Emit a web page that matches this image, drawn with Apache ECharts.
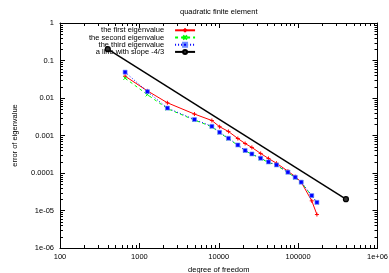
<!DOCTYPE html>
<html>
<head>
<meta charset="utf-8">
<script src="https://cdn.jsdelivr.net/npm/echarts@6/dist/echarts.min.js"></script>
<style>
html,body{margin:0;padding:0;background:#fff;}
#c{width:389px;height:273px;}
</style>
</head>
<body>
<div id="c"></div>
<script>
const dof = [661, 1262, 2255, 4940, 8190, 10260, 13250, 17400, 21500, 26140, 33740, 42340, 53400, 74340, 91900, 109400, 148500, 172500];
const firstEig = [0.0382, 0.0155, 0.00745, 0.00373, 0.00251, 0.00171, 0.00128, 0.000832, 0.000612, 0.00048, 0.000332, 0.000244, 0.000182, 0.000112, 0.000080, 0.000057, 0.0000181, 0.0000078];
const secondEig = [0.0338, 0.0123, 0.0052, 0.00258, 0.00171, 0.00118, 0.00082, 0.000545, 0.000390, 0.000315, 0.000242, 0.000192, 0.000160, 0.000103, 0.000075, 0.000056, 0.0000245, 0.0000162];
const thirdEig = [0.0489, 0.0148, 0.00539, 0.00267, 0.00176, 0.00122, 0.000843, 0.000559, 0.000399, 0.000322, 0.000248, 0.000197, 0.000164, 0.000105, 0.000077, 0.000057, 0.000025, 0.0000165];
const slopeX = [400, 400000];
const slopeY = [0.2, 0.00002];
const seriesNames = ['the first eigenvalue', 'the second eigenvalue', 'the third eigenvalue', 'a line with slope -4/3'];
const xTickLabels = {2: '100', 3: '1000', 4: '10000', 5: '100000', 6: '1e+06'};
const yTickLabels = {0: '1', '-1': '0.1', '-2': '0.01', '-3': '0.001', '-4': '0.0001', '-5': '1e-05', '-6': '1e-06'};
const titleText = 'quadratic finite element';
const xName = 'degree of freedom';
const yName = 'error of eigenvalue';

const FONT = 'Liberation Sans';
const FS = 7.5;

function zip(a, b) { return a.map((v, i) => [v, b[i]]); }

const xMinor = [], yMinor = [];
for (let e = 2; e < 6; e++) for (let m = 2; m <= 9; m++) xMinor.push([m * Math.pow(10, e), 1e-3]);
for (let e = -6; e < 0; e++) for (let m = 2; m <= 9; m++) yMinor.push([1000, m * Math.pow(10, e)]);

function minorRender(isX) {
  return function (params, api) {
    const cs = params.coordSys;
    const p = api.coord([api.value(0), api.value(1)]);
    const L = 3;
    const st = {stroke: '#000', lineWidth: 1};
    if (isX) {
      const x = Math.round(p[0]) + 0.5;
      return {type: 'group', children: [
        {type: 'line', shape: {x1: x, y1: cs.y + cs.height, x2: x, y2: cs.y + cs.height - L}, style: st},
        {type: 'line', shape: {x1: x, y1: cs.y, x2: x, y2: cs.y + L}, style: st}
      ]};
    } else {
      const y = Math.round(p[1]) + 0.5;
      return {type: 'group', children: [
        {type: 'line', shape: {x1: cs.x, y1: y, x2: cs.x + L, y2: y}, style: st},
        {type: 'line', shape: {x1: cs.x + cs.width, y1: y, x2: cs.x + cs.width - L, y2: y}, style: st}
      ]};
    }
  };
}

const axisCommon = {
  type: 'log', logBase: 10,
  axisLine: {show: true, lineStyle: {color: '#000', width: 1}},
  axisTick: {show: true, inside: true, length: 5, lineStyle: {color: '#000'}},
  splitLine: {show: false},
  minorTick: {show: false}
};

const chart = echarts.init(document.getElementById('c'), null, {renderer: 'canvas'});
chart.setOption({
  animation: false,
  backgroundColor: '#fff',
  textStyle: {fontFamily: FONT},
  title: {
    text: titleText, left: 180, top: 8, padding: 0,
    textStyle: {fontFamily: FONT, fontSize: FS, fontWeight: 'normal', color: '#000'}
  },
  grid: {left: 60, right: 11.5, top: 23, bottom: 25, containLabel: false, outerBoundsMode: 'none'},
  legend: {
    orient: 'vertical', align: 'right', left: 89, top: 26.3,
    itemWidth: 20, itemHeight: 5, itemGap: -0.8, padding: 0,
    data: seriesNames,
    textStyle: {fontFamily: FONT, fontSize: FS, lineHeight: 7, height: 7, color: '#000', width: 75, align: 'right', padding: [0, 6, 0, 0]}
  },
  xAxis: [
    Object.assign({}, axisCommon, {
      min: 100, max: 1000000, position: 'bottom',
      name: xName, nameLocation: 'middle', nameGap: 10,
      nameTextStyle: {fontFamily: FONT, fontSize: FS, color: '#000'},
      axisLabel: {show: true, color: '#000', fontFamily: FONT, fontSize: FS, margin: 5,
        formatter: v => xTickLabels[Math.round(Math.log10(v))]}
    }),
    Object.assign({}, axisCommon, {
      min: 100, max: 1000000, position: 'top',
      axisLabel: {show: false}
    })
  ],
  yAxis: [
    Object.assign({}, axisCommon, {
      min: 1e-6, max: 1, position: 'left',
      name: yName, nameLocation: 'middle', nameGap: 41,
      nameTextStyle: {fontFamily: FONT, fontSize: FS, color: '#000'},
      axisLabel: {show: true, color: '#000', fontFamily: FONT, fontSize: FS, margin: 6,
        formatter: v => yTickLabels[Math.round(Math.log10(v))]}
    }),
    Object.assign({}, axisCommon, {
      min: 1e-6, max: 1, position: 'right',
      axisLabel: {show: false}
    })
  ],
  series: [
    {
      name: seriesNames[0], type: 'line', data: zip(dof, firstEig),
      symbol: 'path://M0,5L10,5M5,0L5,10', symbolSize: 4,
      lineStyle: {color: '#ff0000', width: 1, type: 'solid'},
      itemStyle: {color: '#ff0000', borderColor: '#ff0000', borderWidth: 1}
    },
    {
      name: seriesNames[1], type: 'line', data: zip(dof, secondEig),
      symbol: 'path://M0,0L10,10M10,0L0,10', symbolSize: 3.5,
      lineStyle: {color: '#00ff00', width: 1, type: [3, 3]},
      itemStyle: {color: '#00ff00', borderColor: '#00ff00', borderWidth: 1}
    },
    {
      name: seriesNames[2], type: 'line', data: zip(dof, thirdEig),
      symbol: 'rect', symbolSize: 4,
      lineStyle: {color: '#0000ff', width: 1, type: [1, 2]},
      itemStyle: {color: '#0000ff', borderColor: '#6f8fff', borderWidth: 0.6}
    },
    {
      name: seriesNames[3], type: 'line', data: zip(slopeX, slopeY),
      symbol: 'circle', symbolSize: 5,
      lineStyle: {color: '#000', width: 1.5},
      itemStyle: {color: '#333', borderColor: '#000', borderWidth: 1.2}
    },
    {
      type: 'custom', renderItem: minorRender(true), data: xMinor, silent: true, clip: false,
      encode: {x: 0, y: 1}
    },
    {
      type: 'custom', renderItem: minorRender(false), data: yMinor, silent: true, clip: false,
      encode: {x: 0, y: 1}
    }
  ]
});
</script>
</body>
</html>
